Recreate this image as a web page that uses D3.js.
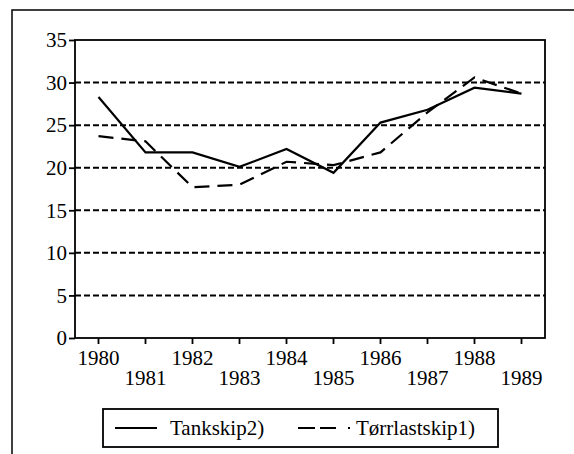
<!DOCTYPE html>
<html>
<head>
<meta charset="utf-8">
<script src="https://cdn.jsdelivr.net/npm/d3@7"></script>
<style>
  body { margin: 0; background: #fff; }
  svg { display: block; }
  .axis text { fill: #000; }
  .axis path, .axis line { stroke: #000; stroke-width: 1.8; }
</style>
</head>
<body>
<svg id="chart" width="574" height="454"></svg>
<script>
// data
const years = ['1980', '1981', '1982', '1983', '1984', '1985', '1986', '1987', '1988', '1989'];
const tankskip = [28.3, 21.8, 21.8, 20.1, 22.2, 19.4, 25.3, 26.8, 29.4, 28.7];
const torrlastskip = [23.7, 23.1, 17.7, 18.0, 20.7, 20.3, 21.8, 26.5, 30.6, 28.7];
const yTicks = [0, 5, 10, 15, 20, 25, 30, 35];
const seriesNames = ['Tankskip2)', 'Tørrlastskip1)'];

const svg = d3.select('#chart');
const font = "'Liberation Serif', serif";
const fontSize = 21;

// outer frame (cut off at right and bottom like the scan)
svg.append('path')
  .attr('d', 'M12,460 L12,10 L580,10')
  .attr('fill', 'none')
  .attr('stroke', '#000')
  .attr('stroke-width', 1.5);

const plot = { left: 75, right: 545, top: 40, bottom: 338 };

const x = d3.scaleBand().domain(years).range([plot.left, plot.right]).paddingInner(0);
const y = d3.scaleLinear().domain([0, 35]).range([plot.bottom, plot.top]);
const xc = (d) => x(d) + x.bandwidth() / 2;

// dashed gridlines
svg.append('g')
  .selectAll('line')
  .data(yTicks.filter((t) => t > 0 && t < 35))
  .enter()
  .append('line')
  .attr('x1', plot.left)
  .attr('x2', plot.right)
  .attr('y1', (d) => y(d))
  .attr('y2', (d) => y(d))
  .attr('stroke', '#000')
  .attr('stroke-width', 2)
  .attr('stroke-dasharray', '6,3');

// box round the plot
svg.append('rect')
  .attr('x', plot.left)
  .attr('y', plot.top)
  .attr('width', plot.right - plot.left)
  .attr('height', plot.bottom - plot.top)
  .attr('fill', 'none')
  .attr('stroke', '#000')
  .attr('stroke-width', 1.8);

// y axis
const yAxis = svg.append('g')
  .attr('class', 'axis')
  .attr('transform', `translate(${plot.left},0)`)
  .call(d3.axisLeft(y).tickValues(yTicks).tickSize(6).tickPadding(2).tickSizeOuter(0));
yAxis.select('.domain').remove();
yAxis.attr('font-family', font).attr('font-size', fontSize);

// x axis, labels alternating on two rows
const xAxis = svg.append('g')
  .attr('class', 'axis')
  .attr('transform', `translate(0,${plot.bottom})`)
  .call(d3.axisBottom(x).tickSize(6).tickSizeOuter(0));
xAxis.select('.domain').remove();
xAxis.attr('font-family', font).attr('font-size', fontSize);
xAxis.selectAll('text')
  .attr('dy', null)
  .attr('y', (d, i) => (i % 2 === 0 ? 27 : 47));

// series lines
const line = d3.line()
  .x((d, i) => xc(years[i]))
  .y((d) => y(d));

svg.append('path')
  .datum(torrlastskip)
  .attr('d', line)
  .attr('fill', 'none')
  .attr('stroke', '#000')
  .attr('stroke-width', 2.2)
  .attr('stroke-dasharray', '15,8');

svg.append('path')
  .datum(tankskip)
  .attr('d', line)
  .attr('fill', 'none')
  .attr('stroke', '#000')
  .attr('stroke-width', 2.2);

// legend
const legend = svg.append('g');
legend.append('rect')
  .attr('x', 103)
  .attr('y', 409)
  .attr('width', 395)
  .attr('height', 38)
  .attr('fill', 'none')
  .attr('stroke', '#000')
  .attr('stroke-width', 1.8);

legend.append('line')
  .attr('x1', 115).attr('x2', 157)
  .attr('y1', 428).attr('y2', 428)
  .attr('stroke', '#000').attr('stroke-width', 2);
legend.append('text')
  .attr('x', 170).attr('y', 435)
  .attr('font-family', font).attr('font-size', fontSize)
  .text(seriesNames[0]);

legend.append('line')
  .attr('x1', 298).attr('x2', 351)
  .attr('y1', 428).attr('y2', 428)
  .attr('stroke', '#000').attr('stroke-width', 2)
  .attr('stroke-dasharray', '17,5,16,12,2,20');
legend.append('text')
  .attr('x', 356).attr('y', 435)
  .attr('font-family', font).attr('font-size', fontSize)
  .text(seriesNames[1]);
</script>
</body>
</html>
